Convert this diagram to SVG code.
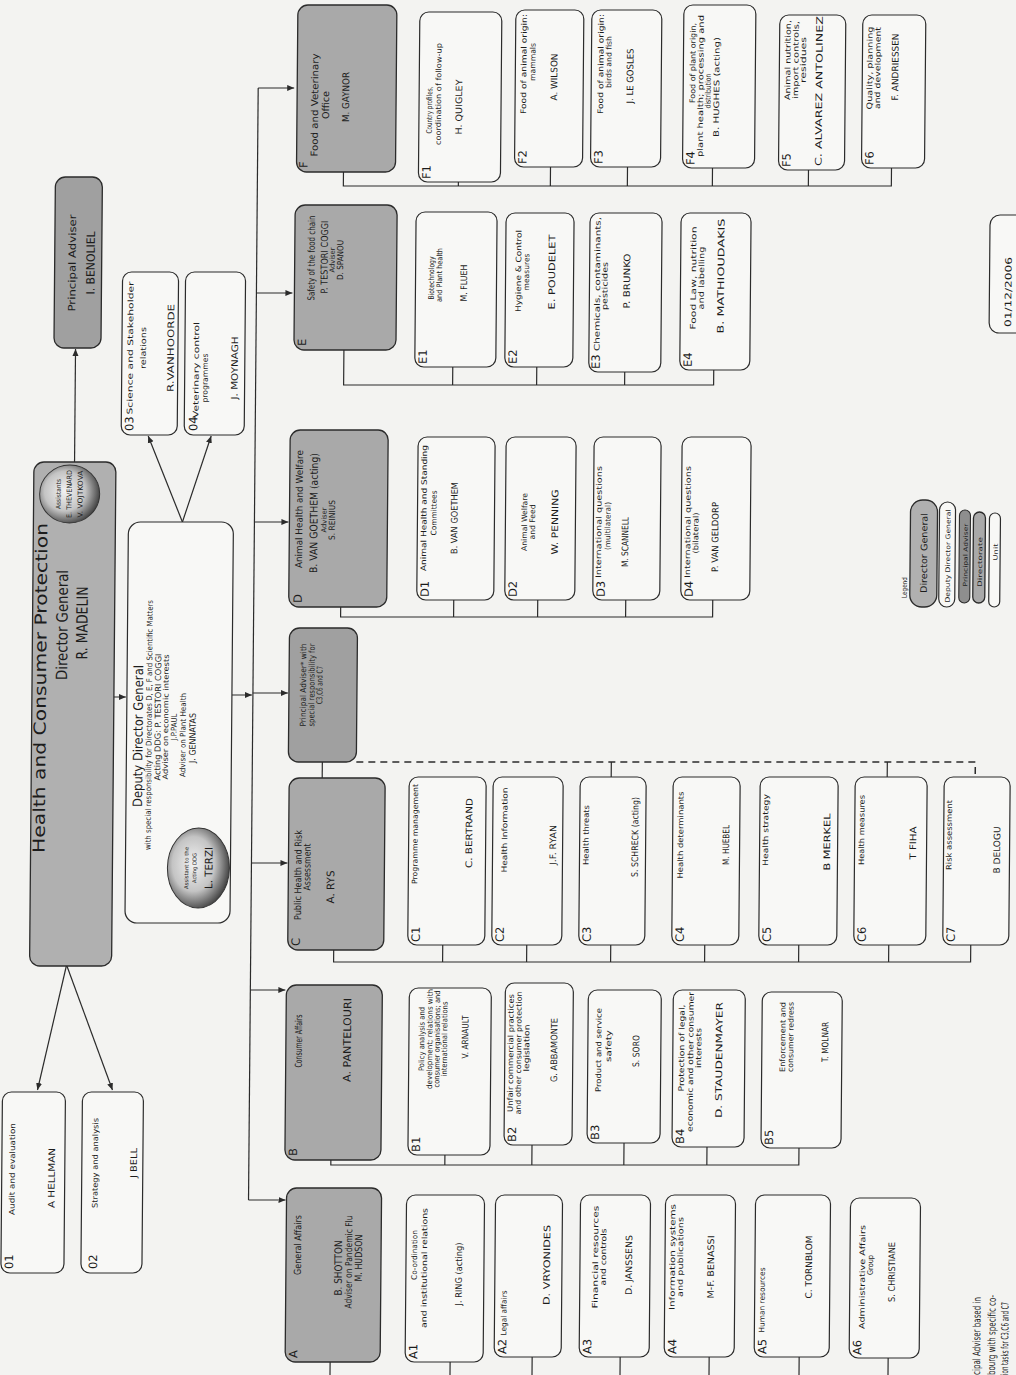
<svg xmlns="http://www.w3.org/2000/svg" width="1016" height="1375" viewBox="0 0 1016 1375">
<style>
text{font-family:"DejaVu Sans","Liberation Sans",Arial,sans-serif;fill:#1c1c1c}
.m{text-anchor:middle}
.e{text-anchor:end}
.gd{fill:#a9a9a9;stroke:#2b2b2b;stroke-width:1.3}
.gg{fill:#b0b0b0;stroke:#2b2b2b;stroke-width:1.3}
.gp{fill:#a0a0a0;stroke:#2b2b2b;stroke-width:1.3}
.w{fill:#f8f8f6;stroke:#2b2b2b;stroke-width:1.2}
.ln{stroke:#2b2b2b;stroke-width:1.2;fill:none}
.ar{stroke:#2b2b2b;stroke-width:1.2;fill:none;marker-end:url(#ah)}
.ds{stroke:#2b2b2b;stroke-width:1.5;fill:none;stroke-dasharray:7 5}
.lb{font-size:11.5px}
.d{font-size:7.6px;text-anchor:middle}
.n{font-size:9px;text-anchor:middle}
.h{font-size:9.5px;text-anchor:middle}
</style>
<defs>
<marker id="ah" markerWidth="8" markerHeight="8" refX="7" refY="4" orient="auto" markerUnits="userSpaceOnUse"><path d="M0,1 L7,4 L0,7 Z" fill="#2b2b2b"/></marker>
<radialGradient id="sph" cx="55%" cy="42%" r="62%"><stop offset="0" stop-color="#f2f2f2"/><stop offset="0.55" stop-color="#c4c4c4"/><stop offset="1" stop-color="#333"/></radialGradient>
</defs>
<rect width="1016" height="1375" fill="#f3f3f1"/>
<g transform="matrix(0.0087 -1 1 0 0 1375)">

<g id="connectors">
<path class="ln" d="M175,247 H1287"/>
<path class="ar" d="M1287,247 V283"/>
<path class="ar" d="M1082,247 V283"/>
<path class="ar" d="M853,247 V281"/>
<path class="ar" d="M682,247 V282"/>
<path class="ar" d="M512,247 V283"/>
<path class="ar" d="M385,247 V282"/>
<path class="ar" d="M175,247 V284"/>
<path class="ar" d="M678,108 V120"/>
<path class="ar" d="M680,226 V246"/>
<path class="ar" d="M913,66.6 H1026"/>
<path class="ar" d="M410,63 L285,35"/>
<path class="ar" d="M410,63 L285,110"/>
<path class="ar" d="M853,175 L939,140"/>
<path class="ar" d="M853,175 L939,203"/>
<path class="ln" d="M1203,333 H1189 V881 H1207 M1189,448 H1193 M1189,540 H1208 M1189,617 H1208 M1189,702 H1207 M1189,798 H1205"/>
<path class="ln" d="M1025,335 H990 V705 H1005 M990,444 H1008 M990,528 H1008 M990,616 H1003"/>
<path class="ln" d="M768,334 H758 V706 H775 M758,447 H775 M758,531 H775 M758,619 H775"/>
<path class="ln" d="M425,330 H413 V967 H430 M413,439 H430 M413,523 H430 M413,607 H430 M413,701 H430 M413,795 H430 M413,885 H430"/>
<path class="ln" d="M215,329 H210 V797 H227 M210,443 H220 M210,530 H230 M210,622 H232 M210,705 H228"/>
<path class="ln" d="M13,330 H-4 V888 H17 M-4,450 H13 M-4,532 H18 M-4,620 H18 M-4,709 H18 M-4,799 H18"/>
<path class="ln" d="M597,317 H613"/>
<path class="ds" d="M613,351 V970 H598"/>
<path class="ln" d="M613,606 H598 M613,882 H598"/>
</g>

<g id="dg">
<rect class="gg" x="409" y="26" width="504" height="82" rx="10"/>
<text class="m" x="750" y="61" font-size="15.5" textLength="110" lengthAdjust="spacingAndGlyphs">Director General</text>
<text class="m" x="752" y="81" font-size="15.5" textLength="73" lengthAdjust="spacingAndGlyphs">R. MADELIN</text>
<ellipse cx="881" cy="62" rx="29" ry="30" fill="url(#sph)" stroke="#333" stroke-width="1"/>
<text class="m" x="881" y="53" font-size="6.5" textLength="30" lengthAdjust="spacingAndGlyphs">Assistants</text>
<text class="m" x="881" y="64" font-size="7" textLength="48" lengthAdjust="spacingAndGlyphs">E. THEVENARD</text>
<text class="m" x="881" y="75" font-size="7" textLength="47" lengthAdjust="spacingAndGlyphs">V. VOJTKOVA</text>
</g>

<g id="title"><text class="m" x="687" y="40" font-size="16.5" textLength="330" lengthAdjust="spacingAndGlyphs">Health and Consumer Protection</text></g>

<g id="pa-benoliel">
<rect class="gp" x="1027" y="45" width="171" height="47" rx="10"/>
<text class="m" x="1112" y="66" font-size="10" textLength="97" lengthAdjust="spacingAndGlyphs">Principal Adviser</text>
<text class="m" x="1112" y="85" font-size="11.5" textLength="63" lengthAdjust="spacingAndGlyphs">I. BENOLIEL</text>
</g>

<g id="u01">
<rect class="w" x="102" y="0" width="181" height="63" rx="9"/>
<text class="lb" x="106" y="12">01</text>
<text class="d" x="206" y="13" textLength="92" lengthAdjust="spacingAndGlyphs">Audit and evaluation</text>
<text class="n" x="197" y="53" textLength="60" lengthAdjust="spacingAndGlyphs">A HELLMAN</text>
</g>
<g id="u02">
<rect class="w" x="102" y="80" width="181" height="61" rx="9"/>
<text class="lb" x="106" y="96">02</text>
<text class="d" x="212" y="96" textLength="90" lengthAdjust="spacingAndGlyphs">Strategy and analysis</text>
<text class="n" x="212" y="135" textLength="30" lengthAdjust="spacingAndGlyphs">J BELL</text>
</g>
<g id="u03">
<rect class="w" x="940" y="113" width="163" height="56" rx="9"/>
<text class="lb" x="944" y="125">03</text>
<text class="d" x="1027" y="124" textLength="133" lengthAdjust="spacingAndGlyphs">Science and Stakeholder</text>
<text class="d" x="1027" y="137" textLength="42" lengthAdjust="spacingAndGlyphs">relations</text>
<text class="n" x="1027" y="165" textLength="88" lengthAdjust="spacingAndGlyphs">R.VANHOORDE</text>
</g>
<g id="u04">
<rect class="w" x="940" y="176" width="163" height="60" rx="9"/>
<text class="lb" x="944" y="189">04</text>
<text class="d" x="1005" y="190" textLength="96" lengthAdjust="spacingAndGlyphs">Veterinary control</text>
<text class="d" x="997" y="199" textLength="49" lengthAdjust="spacingAndGlyphs">programmes</text>
<text class="n" x="1007" y="229" textLength="63" lengthAdjust="spacingAndGlyphs">J. MOYNAGH</text>
</g>

<g id="ddg">
<rect class="w" x="452" y="121" width="401" height="105" rx="12"/>
<text class="m" x="639" y="137" font-size="13" textLength="142" lengthAdjust="spacingAndGlyphs">Deputy Director General</text>
<text class="m" x="650" y="146" font-size="7.8" textLength="250" lengthAdjust="spacingAndGlyphs">with special responsibility for Directorates D, E, F and Scientific Matters</text>
<text class="m" x="658" y="155" font-size="8.3" textLength="127" lengthAdjust="spacingAndGlyphs">Acting DDG: P. TESTORI COGGI</text>
<text class="m" x="658" y="162.5" font-size="7.3" textLength="125" lengthAdjust="spacingAndGlyphs">Adviser on economic interests</text>
<text class="m" x="648" y="171" font-size="7.8" textLength="27" lengthAdjust="spacingAndGlyphs">J.P.PAUL</text>
<text class="m" x="640" y="180" font-size="7.8" textLength="84" lengthAdjust="spacingAndGlyphs">Adviser on Plant Health</text>
<text class="m" x="637" y="190" font-size="8.8" textLength="50" lengthAdjust="spacingAndGlyphs">J. GENNATAS</text>
<ellipse cx="507" cy="194" rx="40" ry="31" fill="url(#sph)" stroke="#333" stroke-width="1"/>
<text class="m" x="507" y="184" font-size="5.5" textLength="42" lengthAdjust="spacingAndGlyphs">Assistant to the</text>
<text class="m" x="507" y="192" font-size="5.5" textLength="30" lengthAdjust="spacingAndGlyphs">Acting DDG</text>
<text class="m" x="507" y="208" font-size="10.5" textLength="42" lengthAdjust="spacingAndGlyphs">L. TERZI</text>
</g>

<g id="dir-F">
<rect class="gd" x="1203" y="286" width="167" height="99" rx="10"/>
<text class="lb" x="1207" y="297">F</text>
<text class="h" x="1270" y="307" textLength="103" lengthAdjust="spacingAndGlyphs">Food and Veterinary</text>
<text class="h" x="1270" y="318" textLength="28" lengthAdjust="spacingAndGlyphs">Office</text>
<text class="h" x="1278" y="338" textLength="50" lengthAdjust="spacingAndGlyphs">M. GAYNOR</text>
</g>
<g id="dir-E">
<rect class="gd" x="1025" y="285" width="145" height="102" rx="10"/>
<text class="lb" x="1029" y="297">E</text>
<text class="h" x="1117" y="305" textLength="85" lengthAdjust="spacingAndGlyphs">Safety of the food chain</text>
<text class="h" x="1118" y="318" textLength="73" lengthAdjust="spacingAndGlyphs">P. TESTORI COGGI</text>
<text class="m" x="1115" y="325" font-size="7" textLength="25" lengthAdjust="spacingAndGlyphs">Adviser</text>
<text class="m" x="1115" y="333.5" font-size="8.5" textLength="40" lengthAdjust="spacingAndGlyphs">D. SPANOU</text>
</g>
<g id="dir-D">
<rect class="gd" x="768" y="282" width="177" height="98" rx="10"/>
<text class="lb" x="772" y="295">D</text>
<text class="h" x="866" y="295" textLength="118" lengthAdjust="spacingAndGlyphs">Animal Health and Welfare</text>
<text class="m" x="862" y="310" font-size="10.5" textLength="120" lengthAdjust="spacingAndGlyphs">B. VAN GOETHEM (acting)</text>
<text class="m" x="855" y="319" font-size="7" textLength="25" lengthAdjust="spacingAndGlyphs">Adviser</text>
<text class="m" x="855" y="327.5" font-size="8.5" textLength="40" lengthAdjust="spacingAndGlyphs">S. REINIUS</text>
</g>
<g id="pa-c">
<rect class="gp" x="613" y="283" width="134" height="68" rx="10"/>
<text class="m" x="690" y="300" font-size="8.2" textLength="83" lengthAdjust="spacingAndGlyphs">Principal Adviser* with</text>
<text class="m" x="690" y="308.5" font-size="8.2" textLength="83" lengthAdjust="spacingAndGlyphs">special responsibility for</text>
<text class="m" x="690" y="316.5" font-size="8.2" textLength="38" lengthAdjust="spacingAndGlyphs">C3,C6 and C7</text>
</g>
<g id="dir-C">
<rect class="gd" x="425" y="284" width="172" height="96" rx="10"/>
<text class="lb" x="429" y="296">C</text>
<text class="h" x="500" y="297" textLength="90" lengthAdjust="spacingAndGlyphs">Public Health and Risk</text>
<text class="h" x="508" y="306" textLength="47" lengthAdjust="spacingAndGlyphs">Assessment</text>
<text class="m" x="488" y="330" font-size="10.5" textLength="33" lengthAdjust="spacingAndGlyphs">A. RYS</text>
</g>
<g id="dir-B">
<rect class="gd" x="215" y="283" width="175" height="96" rx="10"/>
<text class="lb" x="219" y="295">B</text>
<text class="h" x="334" y="299" textLength="53" lengthAdjust="spacingAndGlyphs">Consumer Affairs</text>
<text class="m" x="335" y="348" font-size="10.5" textLength="84" lengthAdjust="spacingAndGlyphs">A. PANTELOURI</text>
</g>
<g id="dir-A">
<rect class="gd" x="13" y="285" width="174" height="95" rx="10"/>
<text class="lb" x="17" y="297">A</text>
<text class="h" x="130" y="300" textLength="60" lengthAdjust="spacingAndGlyphs">General Affairs</text>
<text class="m" x="107" y="341" font-size="10.5" textLength="55" lengthAdjust="spacingAndGlyphs">B. SHOTTON</text>
<text class="h" x="113" y="351" textLength="93" lengthAdjust="spacingAndGlyphs">Adviser on Pandemic Flu</text>
<text class="m" x="117" y="361" font-size="10" textLength="47" lengthAdjust="spacingAndGlyphs">M. HUDSON</text>
</g>

<g id="unit-F1"><rect class="w" x="1193" y="408" width="170" height="82" rx="9"/>
<text class="lb" x="1196" y="420">F1</text>
<text class="d" x="1265" y="421" textLength="47" lengthAdjust="spacingAndGlyphs">Country profiles,</text>
<text class="d" x="1281" y="430" textLength="102" lengthAdjust="spacingAndGlyphs">coordination of follow-up</text>
<text class="n" x="1268" y="451" textLength="55" lengthAdjust="spacingAndGlyphs">H. QUIGLEY</text></g>
<g id="unit-F2"><rect class="w" x="1208" y="504" width="157" height="68" rx="9"/>
<text class="lb" x="1211" y="516">F2</text>
<text class="d" x="1311" y="515" textLength="100" lengthAdjust="spacingAndGlyphs">Food of animal origin:</text>
<text class="d" x="1313" y="524" textLength="38" lengthAdjust="spacingAndGlyphs">mammals</text>
<text class="n" x="1298" y="546" textLength="47" lengthAdjust="spacingAndGlyphs">A. WILSON</text></g>
<g id="unit-F3"><rect class="w" x="1208" y="580" width="157" height="70" rx="9"/>
<text class="lb" x="1211" y="592">F3</text>
<text class="d" x="1311" y="592" textLength="100" lengthAdjust="spacingAndGlyphs">Food of animal origin:</text>
<text class="d" x="1313" y="600" textLength="52" lengthAdjust="spacingAndGlyphs">birds and fish</text>
<text class="n" x="1299" y="622" textLength="55" lengthAdjust="spacingAndGlyphs">J. LE GOSLES</text></g>
<g id="unit-F4"><rect class="w" x="1207" y="672" width="163" height="72" rx="9"/>
<text class="lb" x="1210" y="684">F4</text>
<text class="d" x="1312" y="684" textLength="80" lengthAdjust="spacingAndGlyphs">Food of plant origin,</text>
<text class="d" x="1289" y="692" textLength="142" lengthAdjust="spacingAndGlyphs">plant health; processing and</text>
<text class="d" x="1284" y="699.5" textLength="35" lengthAdjust="spacingAndGlyphs">distribution</text>
<text class="d" x="1288" y="708" textLength="100" lengthAdjust="spacingAndGlyphs">B. HUGHES (acting)</text></g>
<g id="unit-F5"><rect class="w" x="1205" y="768" width="155" height="66" rx="9"/>
<text class="lb" x="1208" y="780">F5</text>
<text class="d" x="1315" y="779" textLength="80" lengthAdjust="spacingAndGlyphs">Animal nutrition,</text>
<text class="d" x="1315" y="787" textLength="78" lengthAdjust="spacingAndGlyphs">import controls,</text>
<text class="d" x="1315" y="794.5" textLength="46" lengthAdjust="spacingAndGlyphs">residues</text>
<text class="n" x="1284" y="811" textLength="150" lengthAdjust="spacingAndGlyphs">C. ALVAREZ ANTOLINEZ</text></g>
<g id="unit-F6"><rect class="w" x="1207" y="851" width="153" height="63" rx="9"/>
<text class="lb" x="1210" y="863">F6</text>
<text class="d" x="1307" y="861" textLength="83" lengthAdjust="spacingAndGlyphs">Quality, planning</text>
<text class="d" x="1307" y="869" textLength="82" lengthAdjust="spacingAndGlyphs">and development</text>
<text class="n" x="1308" y="887" textLength="67" lengthAdjust="spacingAndGlyphs">F. ANDRIESSEN</text></g>

<g id="unit-E1"><rect class="w" x="1008" y="406" width="155" height="81" rx="9"/>
<text class="lb" x="1011" y="418">E1</text>
<text class="d" x="1097" y="424.5" textLength="43" lengthAdjust="spacingAndGlyphs">Biotechnology</text>
<text class="d" x="1100" y="432.5" textLength="54" lengthAdjust="spacingAndGlyphs">and Plant health</text>
<text class="n" x="1092" y="457.5" textLength="37" lengthAdjust="spacingAndGlyphs">M. FLUEH</text></g>
<g id="unit-E2"><rect class="w" x="1008" y="496" width="154" height="68" rx="9"/>
<text class="lb" x="1011" y="508">E2</text>
<text class="d" x="1104" y="511.5" textLength="82" lengthAdjust="spacingAndGlyphs">Hygiene &amp; Control</text>
<text class="d" x="1103" y="519.5" textLength="37" lengthAdjust="spacingAndGlyphs">measures</text>
<text class="n" x="1103" y="545.5" textLength="75" lengthAdjust="spacingAndGlyphs">E. POUDELET</text></g>
<g id="unit-E3"><rect class="w" x="1003" y="580" width="159" height="72" rx="9"/>
<text class="lb" x="1006" y="591">E3</text>
<text class="d" x="1091" y="590.5" textLength="134" lengthAdjust="spacingAndGlyphs">Chemicals, contaminants,</text>
<text class="d" x="1089" y="598" textLength="48" lengthAdjust="spacingAndGlyphs">pesticides</text>
<text class="n" x="1094" y="620.5" textLength="55" lengthAdjust="spacingAndGlyphs">P. BRUNKO</text></g>
<g id="unit-E4"><rect class="w" x="1005" y="671" width="157" height="70" rx="9"/>
<text class="lb" x="1008" y="683">E4</text>
<text class="d" x="1097" y="686.5" textLength="103" lengthAdjust="spacingAndGlyphs">Food Law, nutrition</text>
<text class="d" x="1097" y="694.5" textLength="63" lengthAdjust="spacingAndGlyphs">and labelling</text>
<text class="n" x="1099" y="714.5" textLength="115" lengthAdjust="spacingAndGlyphs">B. MATHIOUDAKIS</text></g>

<g id="unit-D1"><rect class="w" x="775" y="410" width="163" height="77" rx="9"/>
<text class="lb" x="778" y="422">D1</text>
<text class="d" x="867" y="419" textLength="126" lengthAdjust="spacingAndGlyphs">Animal Health and Standing</text>
<text class="d" x="862" y="429" textLength="45" lengthAdjust="spacingAndGlyphs">Committees</text>
<text class="n" x="857" y="450" textLength="72" lengthAdjust="spacingAndGlyphs">B. VAN GOETHEM</text></g>
<g id="unit-D2"><rect class="w" x="775" y="498" width="163" height="70" rx="9"/>
<text class="lb" x="778" y="510">D2</text>
<text class="d" x="853" y="519.6" textLength="58" lengthAdjust="spacingAndGlyphs">Animal Welfare</text>
<text class="d" x="853" y="527.6" textLength="35" lengthAdjust="spacingAndGlyphs">and Feed</text>
<text class="n" x="853" y="550.6" textLength="65" lengthAdjust="spacingAndGlyphs">W. PENNING</text></g>
<g id="unit-D3"><rect class="w" x="775" y="586" width="163" height="67" rx="9"/>
<text class="lb" x="778" y="598">D3</text>
<text class="d" x="853" y="594" textLength="112" lengthAdjust="spacingAndGlyphs">International questions</text>
<text class="d" x="849" y="603" textLength="48" lengthAdjust="spacingAndGlyphs">(multilateral)</text>
<text class="n" x="833" y="621" textLength="50" lengthAdjust="spacingAndGlyphs">M. SCANNELL</text></g>
<g id="unit-D4"><rect class="w" x="775" y="674" width="163" height="69" rx="9"/>
<text class="lb" x="778" y="686">D4</text>
<text class="d" x="853" y="683" textLength="112" lengthAdjust="spacingAndGlyphs">International questions</text>
<text class="d" x="842" y="691" textLength="41" lengthAdjust="spacingAndGlyphs">(bilateral)</text>
<text class="n" x="838" y="711" textLength="70" lengthAdjust="spacingAndGlyphs">P. VAN GELDORP</text></g>

<g id="unit-C1"><rect class="w" x="430" y="404" width="168" height="77" rx="9"/>
<text class="lb" x="433" y="416">C1</text>
<text class="d" x="541" y="413" textLength="100" lengthAdjust="spacingAndGlyphs">Programme management</text>
<text class="n" x="542" y="467.5" textLength="70" lengthAdjust="spacingAndGlyphs">C. BERTRAND</text></g>
<g id="unit-C2"><rect class="w" x="430" y="488" width="168" height="70" rx="9"/>
<text class="lb" x="433" y="500">C2</text>
<text class="d" x="545" y="502.5" textLength="85" lengthAdjust="spacingAndGlyphs">Health Information</text>
<text class="n" x="530" y="551.5" textLength="40" lengthAdjust="spacingAndGlyphs">J.F. RYAN</text></g>
<g id="unit-C3"><rect class="w" x="430" y="575" width="168" height="66" rx="9"/>
<text class="lb" x="433" y="587">C3</text>
<text class="d" x="540" y="584" textLength="60" lengthAdjust="spacingAndGlyphs">Health threats</text>
<text class="n" x="538" y="633.5" textLength="80" lengthAdjust="spacingAndGlyphs">S. SCHRECK (acting)</text></g>
<g id="unit-C4"><rect class="w" x="430" y="668" width="168" height="67" rx="9"/>
<text class="lb" x="433" y="680">C4</text>
<text class="d" x="540" y="678.5" textLength="87" lengthAdjust="spacingAndGlyphs">Health determinants</text>
<text class="n" x="530" y="724.5" textLength="40" lengthAdjust="spacingAndGlyphs">M. HUEBEL</text></g>
<g id="unit-C5"><rect class="w" x="430" y="755" width="168" height="78" rx="9"/>
<text class="lb" x="433" y="767">C5</text>
<text class="d" x="545" y="763.5" textLength="72" lengthAdjust="spacingAndGlyphs">Health strategy</text>
<text class="n" x="533" y="825.5" textLength="57" lengthAdjust="spacingAndGlyphs">B MERKEL</text></g>
<g id="unit-C6"><rect class="w" x="430" y="850" width="168" height="72" rx="9"/>
<text class="lb" x="433" y="862">C6</text>
<text class="d" x="545" y="859.5" textLength="70" lengthAdjust="spacingAndGlyphs">Health measures</text>
<text class="n" x="532" y="911.5" textLength="33" lengthAdjust="spacingAndGlyphs">T FIHA</text></g>
<g id="unit-C7"><rect class="w" x="430" y="939" width="168" height="66" rx="9"/>
<text class="lb" x="433" y="951">C7</text>
<text class="d" x="540" y="947" textLength="70" lengthAdjust="spacingAndGlyphs">Risk assessment</text>
<text class="n" x="525" y="995.5" textLength="47" lengthAdjust="spacingAndGlyphs">B DELOGU</text></g>

<g id="unit-B1"><rect class="w" x="220" y="406" width="167" height="82" rx="9"/>
<text class="lb" x="223" y="418">B1</text>
<text class="d" x="336" y="421.4" textLength="64" lengthAdjust="spacingAndGlyphs">Policy analysis and</text>
<text class="d" x="336" y="429.4" textLength="100" lengthAdjust="spacingAndGlyphs">development; relations with</text>
<text class="d" x="336" y="436.8" textLength="97" lengthAdjust="spacingAndGlyphs">consumer organisations; and</text>
<text class="d" x="336" y="444.2" textLength="75" lengthAdjust="spacingAndGlyphs">international relations</text>
<text class="n" x="338" y="465.4" textLength="43" lengthAdjust="spacingAndGlyphs">V. ARNAULT</text></g>
<g id="unit-B2"><rect class="w" x="230" y="502" width="162" height="68" rx="9"/>
<text class="lb" x="233" y="514">B2</text>
<text class="d" x="322" y="510.4" textLength="118" lengthAdjust="spacingAndGlyphs">Unfair commercial practices</text>
<text class="d" x="322" y="518.4" textLength="123" lengthAdjust="spacingAndGlyphs">and other consumer protection</text>
<text class="d" x="327" y="526.4" textLength="47" lengthAdjust="spacingAndGlyphs">legislation</text>
<text class="n" x="325" y="554.4" textLength="64" lengthAdjust="spacingAndGlyphs">G. ABBAMONTE</text></g>
<g id="unit-B3"><rect class="w" x="232" y="585" width="153" height="73" rx="9"/>
<text class="lb" x="235" y="597">B3</text>
<text class="d" x="325" y="598.4" textLength="84" lengthAdjust="spacingAndGlyphs">Product and service</text>
<text class="d" x="329" y="608.4" textLength="32" lengthAdjust="spacingAndGlyphs">safety</text>
<text class="n" x="324" y="636.4" textLength="32" lengthAdjust="spacingAndGlyphs">S. SORO</text></g>
<g id="unit-B4"><rect class="w" x="228" y="670" width="157" height="72" rx="9"/>
<text class="lb" x="231" y="682">B4</text>
<text class="d" x="327" y="681.4" textLength="87" lengthAdjust="spacingAndGlyphs">Protection of legal,</text>
<text class="d" x="313" y="690.4" textLength="140" lengthAdjust="spacingAndGlyphs">economic and other consumer</text>
<text class="d" x="327" y="698.4" textLength="40" lengthAdjust="spacingAndGlyphs">interests</text>
<text class="n" x="315" y="719.4" textLength="116" lengthAdjust="spacingAndGlyphs">D. STAUDENMAYER</text></g>
<g id="unit-B5"><rect class="w" x="227" y="759" width="156" height="80" rx="9"/>
<text class="lb" x="230" y="771">B5</text>
<text class="d" x="338" y="782.4" textLength="70" lengthAdjust="spacingAndGlyphs">Enforcement and</text>
<text class="d" x="338" y="790.4" textLength="70" lengthAdjust="spacingAndGlyphs">consumer redress</text>
<text class="n" x="333" y="825.4" textLength="40" lengthAdjust="spacingAndGlyphs">T. MOLNAR</text></g>

<g id="unit-A1"><rect class="w" x="13" y="405" width="167" height="78" rx="9"/>
<text class="lb" x="16" y="417">A1</text>
<text class="d" x="120" y="416" textLength="50" lengthAdjust="spacingAndGlyphs">Co-ordination</text>
<text class="d" x="107" y="426" textLength="120" lengthAdjust="spacingAndGlyphs">and institutional relations</text>
<text class="n" x="101" y="461" textLength="63" lengthAdjust="spacingAndGlyphs">J. RING (acting)</text></g>
<g id="unit-A2"><rect class="w" x="18" y="494" width="162" height="67" rx="9"/>
<text class="lb" x="21" y="506">A2</text>
<text class="d" x="62" y="506" textLength="45" lengthAdjust="spacingAndGlyphs">Legal affairs</text>
<text class="n" x="110" y="549" textLength="80" lengthAdjust="spacingAndGlyphs">D. VRYONIDES</text></g>
<g id="unit-A3"><rect class="w" x="18" y="579" width="162" height="70" rx="9"/>
<text class="lb" x="21" y="591">A3</text>
<text class="d" x="118" y="597" textLength="103" lengthAdjust="spacingAndGlyphs">Financial resources</text>
<text class="d" x="118" y="605" textLength="57" lengthAdjust="spacingAndGlyphs">and controls</text>
<text class="n" x="110" y="631" textLength="60" lengthAdjust="spacingAndGlyphs">D. JANSSENS</text></g>
<g id="unit-A4"><rect class="w" x="18" y="664" width="162" height="70" rx="9"/>
<text class="lb" x="21" y="676">A4</text>
<text class="d" x="118" y="674" textLength="106" lengthAdjust="spacingAndGlyphs">Information systems</text>
<text class="d" x="118" y="682" textLength="80" lengthAdjust="spacingAndGlyphs">and publications</text>
<text class="n" x="108" y="713" textLength="63" lengthAdjust="spacingAndGlyphs">M-F. BENASSI</text></g>
<g id="unit-A5"><rect class="w" x="18" y="754" width="162" height="75" rx="9"/>
<text class="lb" x="21" y="766">A5</text>
<text class="d" x="75" y="764" textLength="65" lengthAdjust="spacingAndGlyphs">Human resources</text>
<text class="n" x="108" y="811" textLength="63" lengthAdjust="spacingAndGlyphs">C. TORNBLOM</text></g>
<g id="unit-A6"><rect class="w" x="17" y="849" width="160" height="70" rx="9"/>
<text class="lb" x="20" y="861">A6</text>
<text class="d" x="98" y="864" textLength="104" lengthAdjust="spacingAndGlyphs">Administrative Affairs</text>
<text class="d" x="110" y="872" textLength="20" lengthAdjust="spacingAndGlyphs">Group</text>
<text class="n" x="103" y="894" textLength="60" lengthAdjust="spacingAndGlyphs">S. CHRISTIANE</text></g>

<g id="legend">
<text x="777" y="900" font-size="7" textLength="21" lengthAdjust="spacingAndGlyphs">Legend</text>
<rect class="gg" x="768" y="903" width="107" height="27" rx="12"/>
<text class="m" x="822" y="920" font-size="9" textLength="80" lengthAdjust="spacingAndGlyphs">Director General</text>
<rect class="w" x="768" y="932" width="105" height="16" rx="8"/>
<text class="m" x="819" y="943" font-size="6.5" textLength="93" lengthAdjust="spacingAndGlyphs">Deputy Director General</text>
<rect fill="#8e8e8e" stroke="#2b2b2b" stroke-width="1.1" x="772" y="952" width="93" height="11" rx="5.5"/>
<text class="m" x="820" y="960.5" font-size="6" textLength="63" lengthAdjust="spacingAndGlyphs">Principal Adviser</text>
<rect class="gd" x="772" y="966" width="91" height="12" rx="6"/>
<text class="m" x="813" y="975" font-size="6" textLength="50" lengthAdjust="spacingAndGlyphs">Directorate</text>
<rect class="w" x="768" y="982" width="94" height="11" rx="5.5"/>
<text class="m" x="823" y="990.5" font-size="6" textLength="17" lengthAdjust="spacingAndGlyphs">Unit</text>
</g>

<g id="date">
<rect class="w" x="1042" y="980" width="118" height="50" rx="10"/>
<text class="m" x="1083" y="1002" font-size="9" textLength="70" lengthAdjust="spacingAndGlyphs">01/12/2006</text>
</g>

<g id="footnote">
<text class="e" x="78" y="980" font-size="10.5" textLength="78" lengthAdjust="spacingAndGlyphs">cipal Adviser based in</text>
<text class="e" x="80" y="995" font-size="10.5" textLength="80" lengthAdjust="spacingAndGlyphs">bourg with specific co-</text>
<text class="e" x="73" y="1008" font-size="10" textLength="73" lengthAdjust="spacingAndGlyphs">ion tasks for C3,C6 and C7</text>
</g>
</g>
</svg>
